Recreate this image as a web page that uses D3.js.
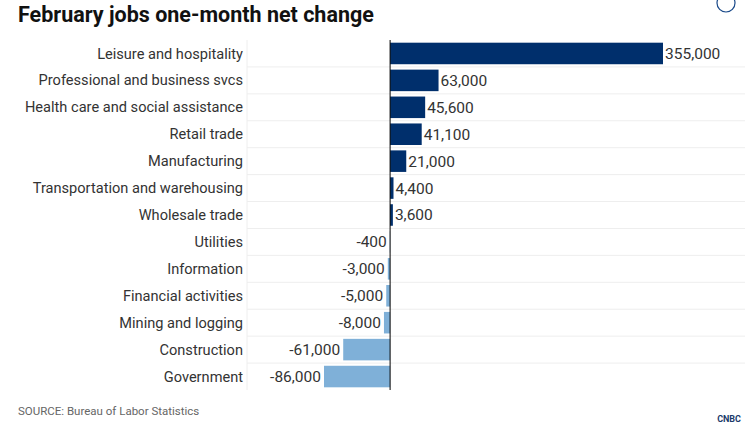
<!DOCTYPE html>
<html><head><meta charset="utf-8">
<script src="https://cdn.jsdelivr.net/npm/d3@7"></script>
<style>body{margin:0;background:#fff;font-family:Roboto,"Liberation Sans",sans-serif;}</style>
</head><body>
<svg id="chart" width="745" height="436"></svg>
<script>
const categories = ["Leisure and hospitality","Professional and business svcs","Health care and social assistance","Retail trade","Manufacturing","Transportation and warehousing","Wholesale trade","Utilities","Information","Financial activities","Mining and logging","Construction","Government"];
const values = [355000,63000,45600,41100,21000,4400,3600,-400,-3000,-5000,-8000,-61000,-86000];

const svg = d3.select("#chart");
const plotTop = 40, plotBottom = 390, plotLeft = 247, plotRight = 745;

const x = d3.scaleLinear().domain([-86000, 355000]).range([324, 663]);
const y = d3.scaleBand().domain(categories).range([plotTop, plotBottom]).paddingInner(0.2).paddingOuter(0.1);
const step = (plotBottom - plotTop) / categories.length;

// title
svg.append("text").attr("x", 18).attr("y", 22)
  .style("font-size", "21.5px").style("font-weight", "bold").attr("fill", "#111")
  .text("February jobs one-month net change");

// expand icon
svg.append("circle").attr("cx", 726).attr("cy", 3).attr("r", 9)
  .attr("fill", "none").attr("stroke", "#1a4a8a").attr("stroke-width", 1.2);

// grid
svg.append("g").selectAll("line").data(d3.range(1, categories.length)).join("line")
  .attr("x1", plotLeft).attr("x2", plotRight)
  .attr("y1", i => plotTop + i * step).attr("y2", i => plotTop + i * step)
  .attr("stroke", "#eeeeee");
svg.append("line").attr("x1", plotLeft).attr("x2", plotLeft).attr("y1", plotTop).attr("y2", plotBottom).attr("stroke", "#eeeeee");

// bars
svg.append("g").selectAll("rect").data(values).join("rect")
  .attr("x", d => Math.min(x(0), x(d)))
  .attr("width", d => Math.abs(x(d) - x(0)))
  .attr("y", (d, i) => y(categories[i]))
  .attr("height", y.bandwidth())
  .attr("fill", d => d >= 0 ? "#002f6c" : "#7fb0d8");

// zero line
svg.append("line").attr("x1", x(0)).attr("x2", x(0)).attr("y1", plotTop).attr("y2", plotBottom)
  .attr("stroke", "#000").attr("stroke-width", 1);

// category labels
svg.append("g").selectAll("text").data(categories).join("text")
  .attr("x", 243).attr("y", d => y(d) + y.bandwidth() / 2)
  .attr("dy", "0.35em").attr("text-anchor", "end")
  .style("font-size", "14.6px").attr("fill", "#333").text(d => d);

// value labels
const fmt = d3.format(",");
svg.append("g").selectAll("text").data(values).join("text")
  .attr("x", d => d >= 0 ? x(d) + 2 : x(d) - 3)
  .attr("y", (d, i) => y(categories[i]) + y.bandwidth() / 2)
  .attr("dy", "0.35em").attr("text-anchor", d => d >= 0 ? "start" : "end")
  .style("font-size", "15.5px").attr("fill", "#333")
  .text(d => fmt(d).replace("−", "-"));

// source
svg.append("text").attr("x", 18).attr("y", 415)
  .style("font-size", "11.5px").attr("fill", "#666")
  .text("SOURCE: Bureau of Labor Statistics");

// logo
svg.append("text").attr("x", 741).attr("y", 422).attr("text-anchor", "end")
  .style("font-size", "9px").style("font-weight", "bold").attr("fill", "#1a3a6a").text("CNBC");
</script>
</body></html>
